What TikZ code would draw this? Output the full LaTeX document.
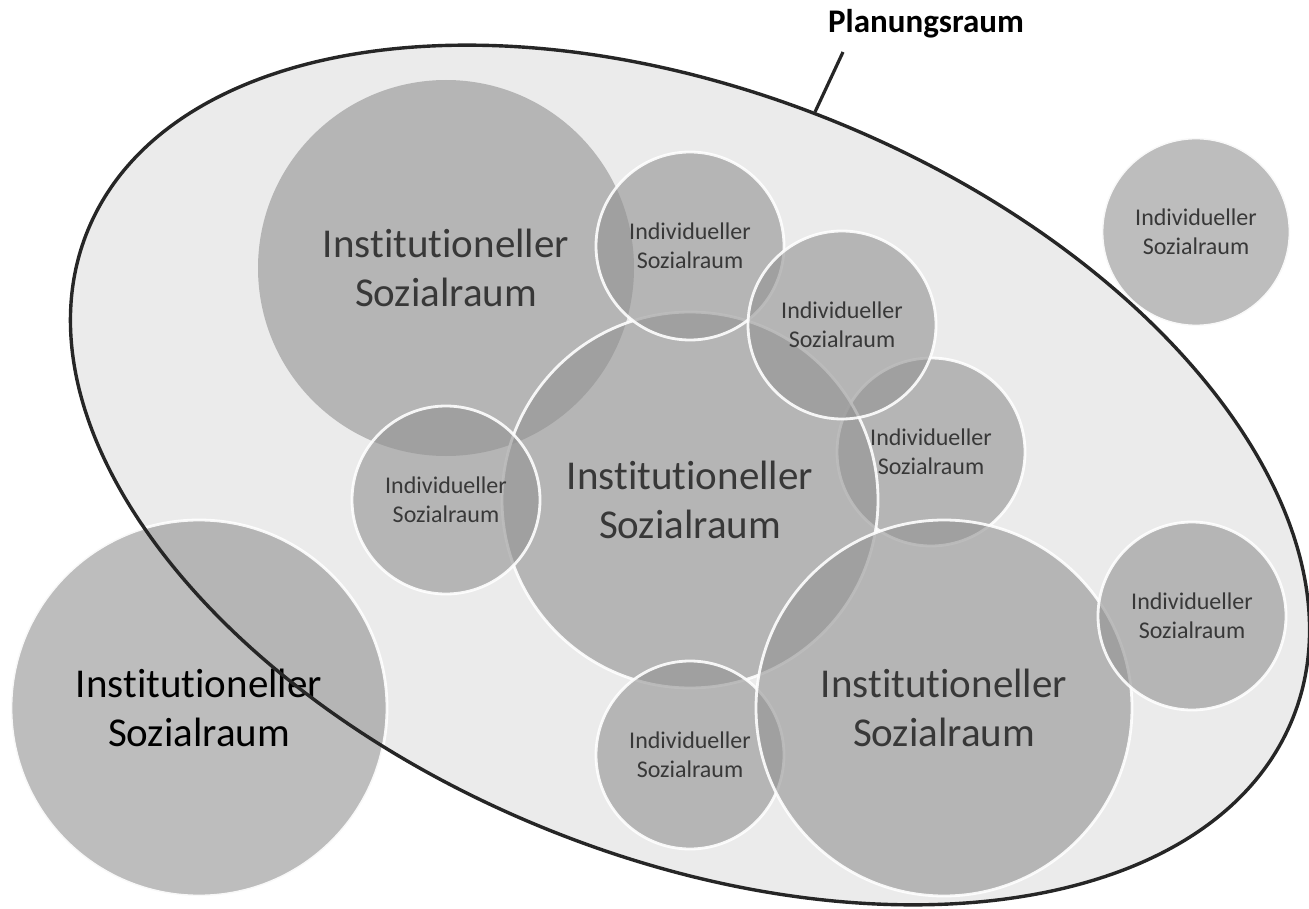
\documentclass[tikz,border=0pt]{standalone}
\usepackage{fontspec}
\setmainfont[Ligatures=NoCommon]{Carlito}
\usetikzlibrary{shapes.geometric}
\definecolor{planfill}{HTML}{EBEBEB}
\definecolor{planline}{HTML}{262626}
\definecolor{raumfill}{HTML}{939393}
\definecolor{raumtext}{HTML}{383838}
\tikzset{
  plan-raum/.style={ellipse,minimum width=1300pt,minimum height=764pt,inner sep=0pt,rotate=-22},
  raum/.style={circle,inner sep=0pt,fill=raumfill,fill opacity=0.61,text opacity=1,draw=white,draw opacity=0.9,line width=2.8pt,align=center,text=raumtext},
  raum-inst/.style={raum,minimum size=376pt,font=\fontsize{41}{49}\selectfont},
  raum-ind/.style={raum,minimum size=188pt,font=\fontsize{24}{29}\selectfont},
  titel/.style={font=\fontsize{33}{40}\selectfont\bfseries},
  leader/.style={draw=planline,line width=3.2pt},
}

\begin{document}
\begin{tikzpicture}[x=1pt,y=-1pt]
  \useasboundingbox (0,0) rectangle (1309,909);

  % PLANUNGSRAUM: flaeche
  \node[plan-raum,fill=planfill] (plan) at (690,475) {};

  % SOZIALRAEUME innen
  \node[raum-inst,draw=none] (inst1) at (446,268) {Institutioneller\\Sozialraum};
  \node[raum-ind] (ind3)  at (931,452)  {Individueller\\Sozialraum};
  \node[raum-inst] (inst2) at (690,500) {Institutioneller\\Sozialraum};
  \node[raum-ind] (ind1)  at (690,246)  {Individueller\\Sozialraum};
  \node[raum-ind] (ind2)  at (842,325)  {Individueller\\Sozialraum};
  \node[raum-ind] (ind4)  at (446,500)  {Individueller\\Sozialraum};
  \node[raum-ind] (ind5)  at (690,755)  {Individueller\\Sozialraum};
  \node[raum-inst] (inst3) at (944,708) {Institutioneller\\Sozialraum};
  \node[raum-ind] (ind6)  at (1192,616) {Individueller\\Sozialraum};

  % SOZIALRAEUME am rand
  \node[raum-ind] (ind7)  at (1196,232) {Individueller\\Sozialraum};
  \node[raum-inst,text=black] (inst4) at (199,708) {Institutioneller\\Sozialraum};

  % PLANUNGSRAUM: rand und titel
  \node[plan-raum,draw=planline,line width=3.4pt] (planrand) at (plan.center) {};
  \node[titel,anchor=base] (titel) at (926,33) {Planungsraum};
  \coordinate (leadtop) at (843,52);
  \draw[leader] (leadtop) -- (planrand.93);

\end{tikzpicture}
\end{document}
